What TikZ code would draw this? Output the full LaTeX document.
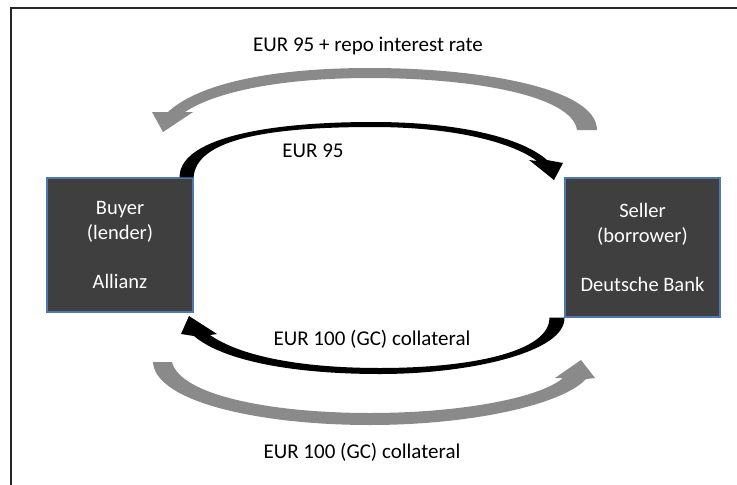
\documentclass[tikz,border=0pt]{standalone}
\usepackage{fontspec}
\setmainfont{Carlito}
\usetikzlibrary{positioning,calc}
\definecolor{boxgray}{RGB}{63,63,63}
\definecolor{boxblue}{RGB}{79,119,178}
\definecolor{flowgray}{RGB}{138,138,138}

\begin{document}
\begin{tikzpicture}[
    x=1pt, y=-1pt,
    party/.style={rectangle, draw=boxblue, line width=1.2pt, fill=boxgray,
                  text=white, align=center,
                  font=\fontsize{20.5}{24.5}\selectfont},
    flowtext/.style={font=\fontsize{21}{25}\selectfont, text=black},
    cashflow/.style={fill=black},
    backflow/.style={fill=flowgray}
]
\useasboundingbox (0,0) rectangle (737,485);

% Frame
\draw[line width=2pt, black!85] (11,485) -- (11,8) -- (737,8);

% Parties
\node[party, minimum width=146pt, minimum height=134pt] (buyer) at (120,245) {Buyer\\(lender)\\[24.5pt]Allianz};
\node[party, minimum width=155pt, minimum height=139pt] (seller) at (642.5,247.5) {Seller\\(borrower)\\[24.5pt]Deutsche Bank};

% Cash out / collateral in (black)
\fill[cashflow] ([xshift=-14pt]buyer.north east) .. controls (179,140) and (260,122) .. (373,122)
    .. controls (460,122) and (522,138) .. (547,160) -- (563,163) -- (554,180) -- (529,160) -- (537,161)
    .. controls (510,141) and (450,127) .. (373,127) .. controls (265,127) and (196,140) .. (buyer.north east) -- cycle;
\fill[cashflow] (seller.south west) .. controls (566,352) and (470,374) .. (380,374)
    .. controls (290,374) and (222,360) .. (194,336) -- (181,334) -- (189,316) -- (217,334) -- (210,335)
    .. controls (240,356) and (300,368) .. (380,368) .. controls (470,368) and (550,352) .. ([xshift=-15pt]seller.south west) -- cycle;

% Repayment / collateral back (gray)
\fill[backflow] (597,130) .. controls (597,88) and (480,68) .. (370,68)
    .. controls (270,68) and (198,84) .. (168,112) -- (152,112) -- (163,132) -- (193,112) -- (185,112)
    .. controls (215,92) and (280,78) .. (370,78) .. controls (470,78) and (572,95) .. (577,130) -- cycle;
\fill[backflow] (153,362) .. controls (155,402) and (260,425) .. (370,425)
    .. controls (470,425) and (562,405) .. (586,379) -- (595,378) -- (581,360) -- (555,378) -- (563,378)
    .. controls (540,398) and (460,413) .. (370,413) .. controls (270,413) and (180,395) .. (172,362) -- cycle;

% Labels
\node[flowtext] (repayText) at (368,46) {EUR 95 + repo interest rate};
\node[flowtext] (cashText) at (313,151) {EUR 95};
\node[flowtext] (collText) at (372,339) {EUR 100 (GC) collateral};
\node[flowtext] (backText) at (362,452) {EUR 100 (GC) collateral};

\end{tikzpicture}
\end{document}
